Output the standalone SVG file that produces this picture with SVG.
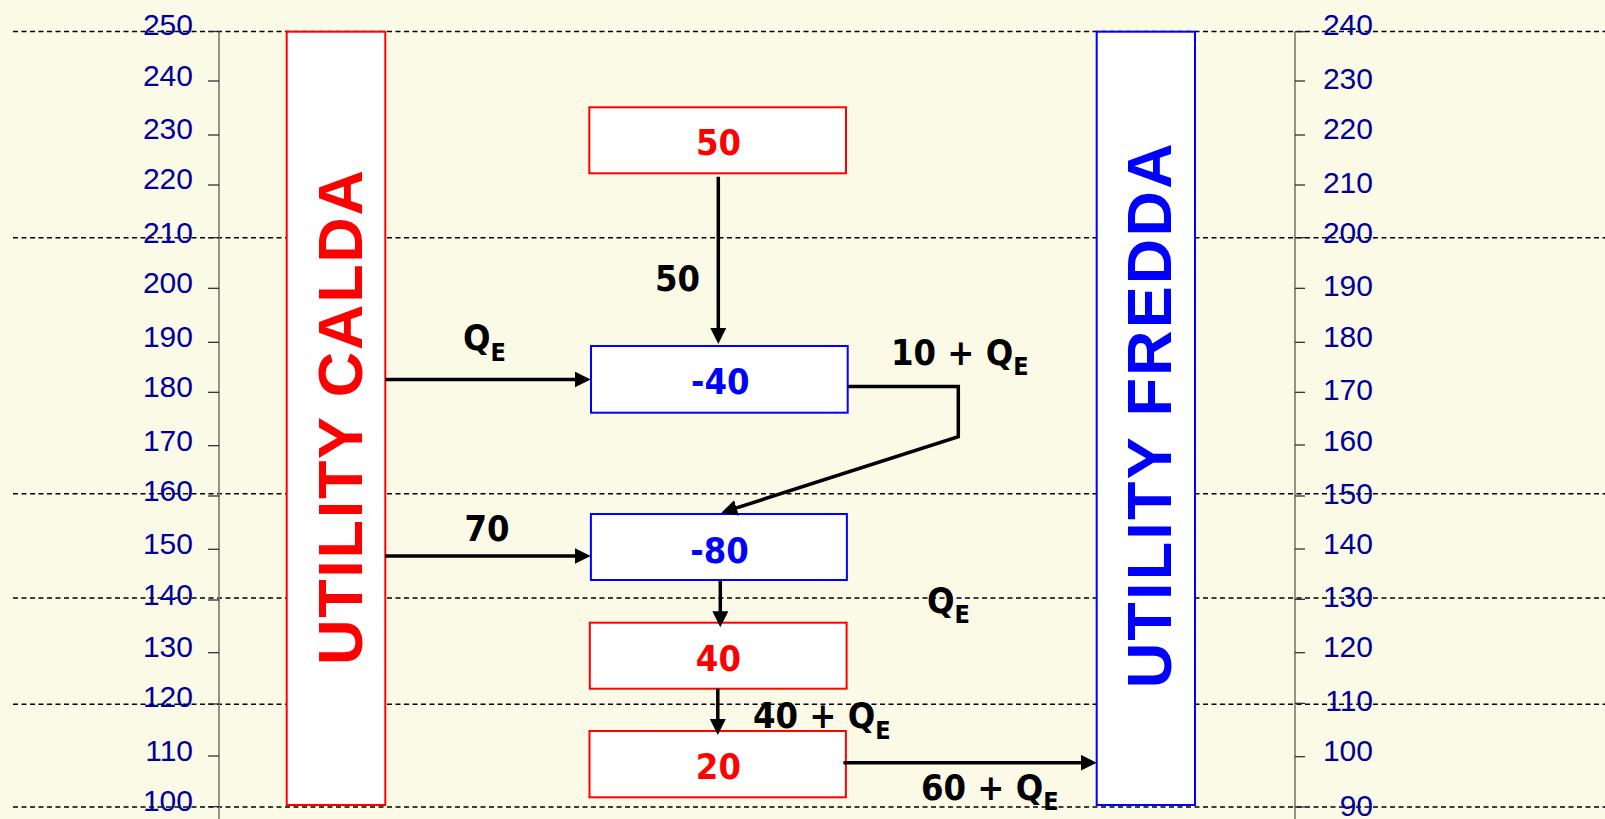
<svg xmlns="http://www.w3.org/2000/svg" width="1605" height="819" viewBox="0 0 1605 819">
<style>
.grid{stroke:#000;stroke-width:1.6;stroke-dasharray:5 3.5;fill:none}
.axis{stroke:#7a7a6a;stroke-width:1.6}
.tick{stroke:#222;stroke-width:1.2}
.ax{font-family:'Liberation Sans',Arial,sans-serif;font-size:30px;fill:#000099;text-anchor:end}
.lbl{font-family:'DejaVu Sans Condensed','DejaVu Sans',sans-serif;font-weight:bold;font-size:36px;fill:#000}
.mid{text-anchor:middle}
.sub{font-size:25px}
.hot{fill:#fff;stroke:#FF0000;stroke-width:2}
.cold{fill:#fff;stroke:#0000FF;stroke-width:2}
.ht{fill:#FF0000}
.ct{fill:#0000FF}
.util{font-family:'Liberation Sans',Arial,sans-serif;font-weight:bold;font-size:63px;text-anchor:middle}
.conn{stroke:#000;stroke-width:3.5;fill:none}
</style>
<defs>
<marker id="arr" markerUnits="userSpaceOnUse" markerWidth="17" markerHeight="17" refX="9" refY="8" orient="auto">
<path d="M0,0 L16,8 L0,16 z" fill="#000"/>
</marker>
</defs>
<rect width="1605" height="819" fill="#FAFAE6"/>
<g id="grid">
<line class="grid" x1="13" y1="31.5" x2="1605" y2="31.5"/>
<line class="grid" x1="13" y1="237.7" x2="1605" y2="237.7"/>
<line class="grid" x1="13" y1="493.8" x2="1605" y2="493.8"/>
<line class="grid" x1="13" y1="598" x2="1605" y2="598"/>
<line class="grid" x1="13" y1="704.2" x2="1605" y2="704.2"/>
<line class="grid" x1="13" y1="807" x2="1605" y2="807"/>
</g>
<g id="left-axis">
<line class="axis" x1="219" y1="31.5" x2="219" y2="819"/>
<g class="tick">
<line x1="208" y1="31.5" x2="219" y2="31.5"/><line x1="208" y1="81" x2="219" y2="81"/><line x1="208" y1="135" x2="219" y2="135"/><line x1="208" y1="185" x2="219" y2="185"/><line x1="208" y1="237.7" x2="219" y2="237.7"/><line x1="208" y1="288.3" x2="219" y2="288.3"/><line x1="208" y1="342.3" x2="219" y2="342.3"/><line x1="208" y1="392.3" x2="219" y2="392.3"/><line x1="208" y1="445.7" x2="219" y2="445.7"/><line x1="208" y1="496" x2="219" y2="496"/><line x1="208" y1="549.3" x2="219" y2="549.3"/><line x1="208" y1="600" x2="219" y2="600"/><line x1="208" y1="652.7" x2="219" y2="652.7"/><line x1="208" y1="704" x2="219" y2="704"/><line x1="208" y1="756" x2="219" y2="756"/><line x1="208" y1="806.7" x2="219" y2="806.7"/>
</g>
<g class="ax">
<text x="193" y="35">250</text><text x="193" y="86">240</text><text x="193" y="139.3">230</text><text x="193" y="189.3">220</text><text x="193" y="243.3">210</text><text x="193" y="293.3">200</text><text x="193" y="346.7">190</text><text x="193" y="397.3">180</text><text x="193" y="450.7">170</text><text x="193" y="500.7">160</text><text x="193" y="554">150</text><text x="193" y="605">140</text><text x="193" y="657.3">130</text><text x="193" y="707.3">120</text><text x="193" y="760.7">110</text><text x="193" y="810.7">100</text>
</g>
</g>
<g id="right-axis">
<line class="axis" x1="1295" y1="31.5" x2="1295" y2="819"/>
<g class="tick">
<line x1="1295" y1="31.7" x2="1305" y2="31.7"/><line x1="1295" y1="81" x2="1305" y2="81"/><line x1="1295" y1="135" x2="1305" y2="135"/><line x1="1295" y1="185" x2="1305" y2="185"/><line x1="1295" y1="237.7" x2="1305" y2="237.7"/><line x1="1295" y1="288.3" x2="1305" y2="288.3"/><line x1="1295" y1="342.3" x2="1305" y2="342.3"/><line x1="1295" y1="392.3" x2="1305" y2="392.3"/><line x1="1295" y1="445" x2="1305" y2="445"/><line x1="1295" y1="496" x2="1305" y2="496"/><line x1="1295" y1="549" x2="1305" y2="549"/><line x1="1295" y1="599.3" x2="1305" y2="599.3"/><line x1="1295" y1="652.7" x2="1305" y2="652.7"/><line x1="1295" y1="703.3" x2="1305" y2="703.3"/><line x1="1295" y1="756.7" x2="1305" y2="756.7"/><line x1="1295" y1="807" x2="1305" y2="807"/>
</g>
<g class="ax">
<text x="1373" y="35">240</text><text x="1373" y="89.3">230</text><text x="1373" y="139.3">220</text><text x="1373" y="193.3">210</text><text x="1373" y="243.3">200</text><text x="1373" y="296">190</text><text x="1373" y="346.7">180</text><text x="1373" y="400">170</text><text x="1373" y="450.7">160</text><text x="1373" y="504">150</text><text x="1373" y="554">140</text><text x="1373" y="607.3">130</text><text x="1373" y="657.3">120</text><text x="1373" y="710.7">110</text><text x="1373" y="760.7">100</text><text x="1373" y="815.7">90</text>
</g>
</g>
<g id="utility-calda">
<rect class="hot" x="286.7" y="31.7" width="98.6" height="773.3"/>
<text class="util ht" transform="translate(361.7,417.5) rotate(-90)" textLength="495" lengthAdjust="spacing">UTILITY CALDA</text>
</g>
<g id="utility-fredda">
<rect class="cold" x="1096.7" y="31.7" width="98.3" height="773.3"/>
<text class="util ct" transform="translate(1171,415.8) rotate(-90)" textLength="545" lengthAdjust="spacing">UTILITY FREDDA</text>
</g>
<g id="node-50">
<rect class="hot" x="589.3" y="107.3" width="256.7" height="66"/>
<text class="lbl mid ht" x="718.5" y="155">50</text>
</g>
<g id="node-m40">
<rect class="cold" x="591" y="346" width="256.7" height="66.7"/>
<text class="lbl mid ct" x="720.3" y="394.3">-40</text>
</g>
<g id="node-m80">
<rect class="cold" x="590.9" y="514" width="256" height="66"/>
<text class="lbl mid ct" x="719.6" y="562.7">-80</text>
</g>
<g id="node-40">
<rect class="hot" x="589.8" y="622.7" width="256.8" height="66"/>
<text class="lbl mid ht" x="718.4" y="671">40</text>
</g>
<g id="node-20">
<rect class="hot" x="589.5" y="731" width="256.4" height="66.3"/>
<text class="lbl mid ht" x="718.4" y="779.3">20</text>
</g>
<g id="connectors">
<line class="conn" x1="718.3" y1="176.7" x2="718.3" y2="337" marker-end="url(#arr)"/>
<line class="conn" x1="385.3" y1="379.5" x2="583.7" y2="379.5" marker-end="url(#arr)"/>
<line class="conn" x1="385.3" y1="556" x2="583.7" y2="556" marker-end="url(#arr)"/>
<path class="conn" d="M847.7,386.5 L958.3,386.5 L958.3,436.7 L728,510.6" marker-end="url(#arr)"/>
<line class="conn" x1="720.3" y1="580" x2="720.3" y2="620.3" marker-end="url(#arr)"/>
<line class="conn" x1="717.8" y1="688.7" x2="717.8" y2="728" marker-end="url(#arr)"/>
<line class="conn" x1="843.4" y1="762.7" x2="1089.7" y2="762.7" marker-end="url(#arr)"/>
<text class="lbl mid" x="677.5" y="290.7">50</text>
<text class="lbl" x="463" y="350">Q<tspan class="sub" dy="10.7">E</tspan></text>
<text class="lbl mid" x="487" y="540.7">70</text>
<text class="lbl" x="891" y="365">10 + Q<tspan class="sub" dy="10">E</tspan></text>
<text class="lbl" x="927" y="613.3">Q<tspan class="sub" dy="10">E</tspan></text>
<text class="lbl" x="753" y="728.3">40 + Q<tspan class="sub" dy="11">E</tspan></text>
<text class="lbl" x="921" y="800">60 + Q<tspan class="sub" dy="10">E</tspan></text>
</g>
</svg>
